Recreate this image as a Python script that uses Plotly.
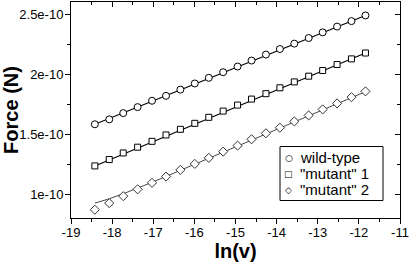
import plotly.graph_objects as go

# ---- data ----
ln_v = [-18.42, -18.07, -17.73, -17.38, -17.03, -16.69, -16.34, -15.99, -15.65, -15.30,
        -14.95, -14.61, -14.26, -13.92, -13.57, -13.22, -12.88, -12.53, -12.18, -11.84]

wild_type = [1.581, 1.622, 1.674, 1.724, 1.777, 1.818, 1.870, 1.921, 1.968, 2.015,
             2.062, 2.112, 2.162, 2.208, 2.253, 2.300, 2.347, 2.395, 2.441, 2.488]
mutant_1 = [1.234, 1.287, 1.342, 1.390, 1.439, 1.492, 1.539, 1.589, 1.639, 1.691,
            1.741, 1.791, 1.836, 1.885, 1.934, 1.982, 2.029, 2.079, 2.126, 2.175]
mutant_2 = [0.869, 0.924, 0.982, 1.039, 1.093, 1.145, 1.201, 1.251, 1.301, 1.353,
            1.403, 1.456, 1.506, 1.552, 1.605, 1.655, 1.705, 1.755, 1.807, 1.855]
scale = 1e-10

# fitted curves
wt_fit_x = [-18.42, -11.84]
wt_fit_y = [1.581, 2.488]
m1_fit_x = [-18.42, -11.84]
m1_fit_y = [1.234, 2.175]
m2_fit_x = [-18.42, -18.07, -17.73, -17.38, -17.03, -11.84]
m2_fit_y = [0.924, 0.960, 1.002, 1.047, 1.097, 1.852]

series_names = ["wild-type", "\"mutant\" 1", "\"mutant\" 2"]
legend_glyphs = ["\u25CB", "\u25A1", "\u25C7"]

x_ticks = [-19, -18, -17, -16, -15, -14, -13, -12, -11]
x_tick_labels = ["-19", "-18", "-17", "-16", "-15", "-14", "-13", "-12", "-11"]
x_minor = [-18.5, -17.5, -16.5, -15.5, -14.5, -13.5, -12.5, -11.5]
y_ticks = [1e-10, 1.5e-10, 2e-10, 2.5e-10]
y_tick_labels = ["1e-10", "1.5e-10", "2e-10", "2.5e-10"]
y_minor = [0.75e-10, 1.25e-10, 1.75e-10, 2.25e-10]
x_range = [-19, -11]
y_range = [0.8e-10, 2.6e-10]

FONT = "Liberation Sans, Arial, Helvetica, sans-serif"

fig = go.Figure()

fits = [(wt_fit_x, wt_fit_y, "black", 1.1), (m1_fit_x, m1_fit_y, "black", 1.1),
        (m2_fit_x, m2_fit_y, "#333333", 0.9)]
for fx, fy, col, w in fits:
    fig.add_trace(go.Scatter(x=fx, y=[v * scale for v in fy], mode="lines",
                             line=dict(color=col, width=w), showlegend=False,
                             hoverinfo="skip"))

symbols = ["circle", "square", "diamond"]
sizes = [7, 6, 7]
colors = ["black", "black", "#333333"]
for name, vals, sym, sz, col in zip(series_names, [wild_type, mutant_1, mutant_2],
                                    symbols, sizes, colors):
    fig.add_trace(go.Scatter(x=ln_v, y=[v * scale for v in vals], mode="markers", name=name,
                             marker=dict(symbol=sym, size=sz, color="white",
                                         line=dict(color=col, width=1)),
                             showlegend=False))

# invisible copy on the overlay axes so the inward mirror ticks are drawn
fig.add_trace(go.Scatter(x=ln_v, y=[v * scale for v in wild_type], xaxis="x2", yaxis="y2",
                         mode="markers", marker=dict(opacity=0), showlegend=False,
                         hoverinfo="skip"))

axis_common = dict(showgrid=False, zeroline=False, tickcolor="black", tickwidth=1,
                   automargin=False)

# ---- hand-drawn legend (box, symbols, labels) ----
def px_x(p):
    return (p - 71) / 329.0

def px_y(p):
    return (218 - p) / 216.0

shapes = [dict(type="rect", xref="paper", yref="paper",
               x0=px_x(280), x1=px_x(383), y0=px_y(200.5), y1=px_y(146.5),
               line=dict(color="black", width=1), fillcolor="white", layer="above")]
annotations = []
row_y = [157.5, 173.5, 189.5]
for glyph, name, ry in zip(legend_glyphs, series_names, row_y):
    annotations.append(dict(xref="paper", yref="paper", x=px_x(288.5), y=px_y(ry),
                            xanchor="center", yanchor="middle", text=glyph, showarrow=False,
                            font=dict(family="DejaVu Sans", size=9, color="#000000")))
    annotations.append(dict(xref="paper", yref="paper", x=px_x(298), y=px_y(ry),
                            xanchor="left", yanchor="middle", text=name, showarrow=False,
                            font=dict(family=FONT, size=15, color="#000000")))

fig.update_layout(
    template="none",
    width=410, height=264,
    margin=dict(l=71, r=10, t=2, b=46),
    paper_bgcolor="white", plot_bgcolor="white",
    font=dict(family=FONT, color="black", size=12),
    showlegend=False,
    xaxis=dict(range=x_range, tickmode="array", tickvals=x_ticks, ticktext=x_tick_labels,
               ticks="outside", ticklen=5, showline=True, linecolor="black", linewidth=1,
               mirror=True, tickfont=dict(size=13), ticklabelstandoff=-3,
               minor=dict(tickmode="array", tickvals=x_minor, ticks="outside", ticklen=3,
                          tickcolor="black", tickwidth=1),
               title=dict(text="<b>ln(v)</b>", font=dict(size=20), standoff=4),
               **axis_common),
    yaxis=dict(range=y_range, tickmode="array", tickvals=y_ticks, ticktext=y_tick_labels,
               ticks="outside", ticklen=5, showline=True, linecolor="black", linewidth=1,
               mirror=True, tickfont=dict(size=13), ticklabelstandoff=-1,
               minor=dict(tickmode="array", tickvals=y_minor, ticks="outside", ticklen=3,
                          tickcolor="black", tickwidth=1),
               title=dict(text="<b>Force (N)</b>", font=dict(size=20), standoff=0),
               **axis_common),
    xaxis2=dict(overlaying="x", side="top", anchor="y2", range=x_range, tickmode="array",
                tickvals=x_ticks, showticklabels=False, ticks="inside", ticklen=5,
                showline=False,
                minor=dict(tickmode="array", tickvals=x_minor, ticks="inside", ticklen=3,
                           tickcolor="black", tickwidth=1),
                **axis_common),
    yaxis2=dict(overlaying="y", side="right", anchor="x2", range=y_range, tickmode="array",
                tickvals=y_ticks, showticklabels=False, ticks="inside", ticklen=5,
                showline=False,
                minor=dict(tickmode="array", tickvals=y_minor, ticks="inside", ticklen=3,
                           tickcolor="black", tickwidth=1),
                **axis_common),
    shapes=shapes,
    annotations=annotations,
)

fig.write_html("out.html", config={"displayModeBar": False},
               post_script="document.body.style.margin='0px';")
